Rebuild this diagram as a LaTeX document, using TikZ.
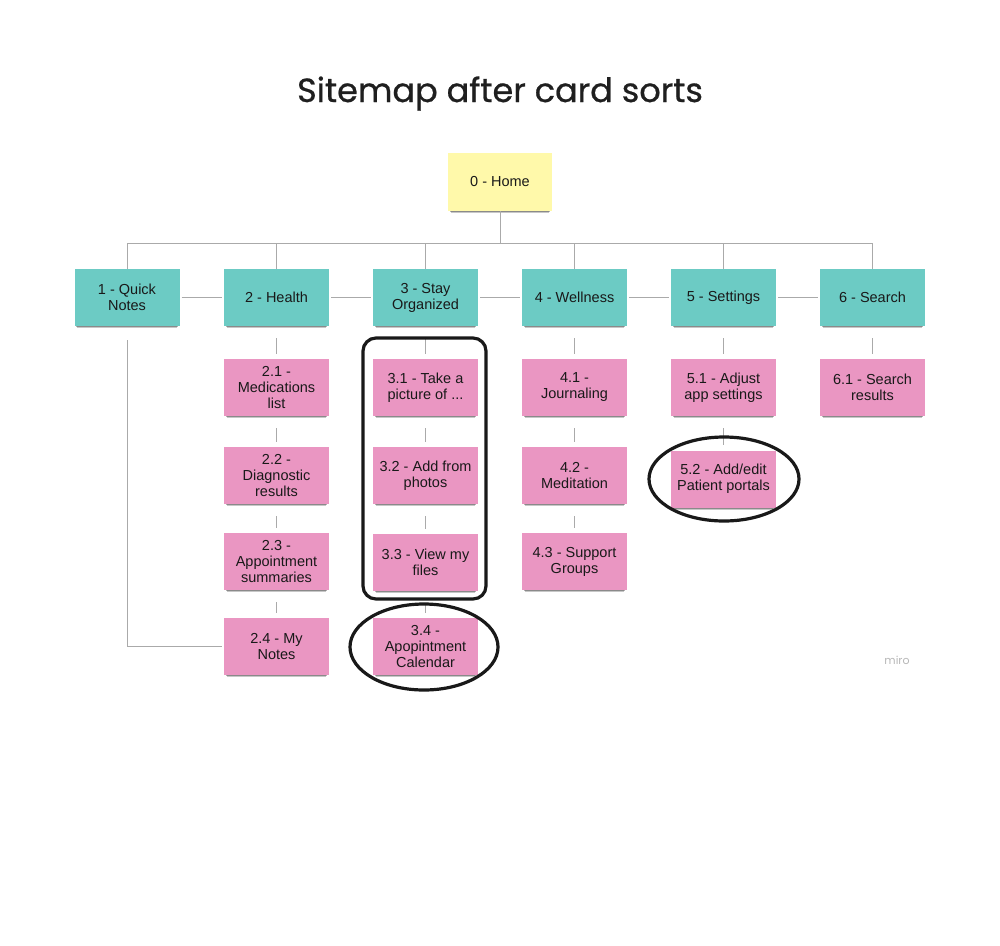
\documentclass[tikz,border=0pt]{standalone}
\usepackage{fontspec}
\setmainfont{Liberation Sans}
\newfontfamily\titlefont[FakeBold=0.7]{Poppins}
\newfontfamily\logofont{Poppins}
\usetikzlibrary{shadows}
\definecolor{teal}{RGB}{108,203,196}
\definecolor{pinkcard}{RGB}{234,150,194}
\definecolor{yellowcard}{RGB}{255,249,170}
\definecolor{linegray}{RGB}{170,170,170}
\tikzset{
  card/.style={rectangle, minimum width=105pt, minimum height=57pt, inner sep=2pt,
    align=center, font=\fontsize{14.5}{16}\selectfont, text=black!90,
    drop shadow={shadow xshift=0pt, shadow yshift=-4pt, shadow scale=0.95, opacity=0.22, fill=black},
    drop shadow={shadow xshift=0pt, shadow yshift=-2pt, shadow scale=0.97, opacity=0.3, fill=black}},
  topcard/.style={card, fill=teal},
  subcard/.style={card, fill=pinkcard},
  homecard/.style={card, fill=yellowcard, minimum width=104pt, minimum height=58pt},
  conn/.style={draw=linegray, line width=1pt},
  stub/.style={conn, shorten <=12pt, shorten >=5pt},
  hilite/.style={draw=black!90, line width=3.2pt},
}
\begin{document}
\begin{tikzpicture}[x=1pt,y=-1pt]
\useasboundingbox (0,0) rectangle (1000,945);
\fill[white] (0,0) rectangle (1000,945);

\node[font=\titlefont\fontsize{33.5}{38}\selectfont, text=black!88, anchor=base, inner sep=0pt] (title) at (500,102) {Sitemap after card sorts};

% cards
\node[homecard] (home) at (500,182) {0 - Home};
\node[topcard] (n1) at (127,297.5) {1 - Quick\\Notes};
\node[topcard] (n2) at (276.5,297.5) {2 - Health};
\node[topcard] (n3) at (425.5,297.5) {3 - Stay\\Organized};
\node[topcard] (n4) at (574.5,297.5) {4 - Wellness};
\node[topcard] (n5) at (723.5,297.5) {5 - Settings};
\node[topcard] (n6) at (872.5,297.5) {6 - Search};

\node[subcard] (c21) at (276.5,387.5) {2.1 -\\Medications\\list};
\node[subcard] (c22) at (276.5,475.5) {2.2 -\\Diagnostic\\results};
\node[subcard] (c23) at (276.5,561.5) {2.3 -\\Appointment\\summaries};
\node[subcard] (c24) at (276.5,646.5) {2.4 - My\\Notes};

\node[subcard] (c31) at (425.5,387.5) {3.1 - Take a\\picture of ...};
\node[subcard] (c32) at (425.5,475.5) {3.2 - Add from\\photos};
\node[subcard] (c33) at (425.5,562.5) {3.3 - View my\\files};
\node[subcard] (c34) at (425.5,646.5) {3.4 -\\Apopintment\\Calendar};

\node[subcard] (c41) at (574.5,387.5) {4.1 -\\Journaling};
\node[subcard] (c42) at (574.5,475.5) {4.2 -\\Meditation};
\node[subcard] (c43) at (574.5,561.5) {4.3 - Support\\Groups};

\node[subcard] (c51) at (723.5,387.5) {5.1 - Adjust\\app settings};
\node[subcard] (c52) at (723.5,479) {5.2 - Add/edit\\Patient portals};

\node[subcard] (c61) at (872.5,387.5) {6.1 - Search\\results};

% connectors
\coordinate (bus) at (500,243);
\draw[conn] (home.south) -- (bus);
\draw[conn] (n1.north) -- (n1.north |- bus) -- (n6.north |- bus) -- (n6.north);
\foreach \n in {n2,n3,n4,n5} \draw[conn] (\n.north) -- (\n.north |- bus);
\foreach \a/\b in {n1/n2,n2/n3,n3/n4,n4/n5,n5/n6}
  \draw[conn, shorten <=2pt, shorten >=2pt] (\a.east) -- (\b.west);
\foreach \a/\b in {n2/c21,c21/c22,c22/c23,c23/c24,n3/c31,c31/c32,c32/c33,c33/c34,n4/c41,c41/c42,c42/c43,n5/c51,c51/c52,n6/c61}
  \draw[stub] (\a.south) -- (\b.north);
\draw[conn, shorten <=14pt, shorten >=2pt] (n1.south) |- (c24.west);

% highlight marks
\draw[hilite, rounded corners=13pt] (363,338) rectangle (486,599);
\draw[hilite] (424,647) ellipse [x radius=74, y radius=43];
\draw[hilite] (724,479) ellipse [x radius=75, y radius=42];

\node[font=\logofont\fontsize{11}{12}\selectfont, text=black!28] (miro) at (897,660) {miro};
\end{tikzpicture}
\end{document}
